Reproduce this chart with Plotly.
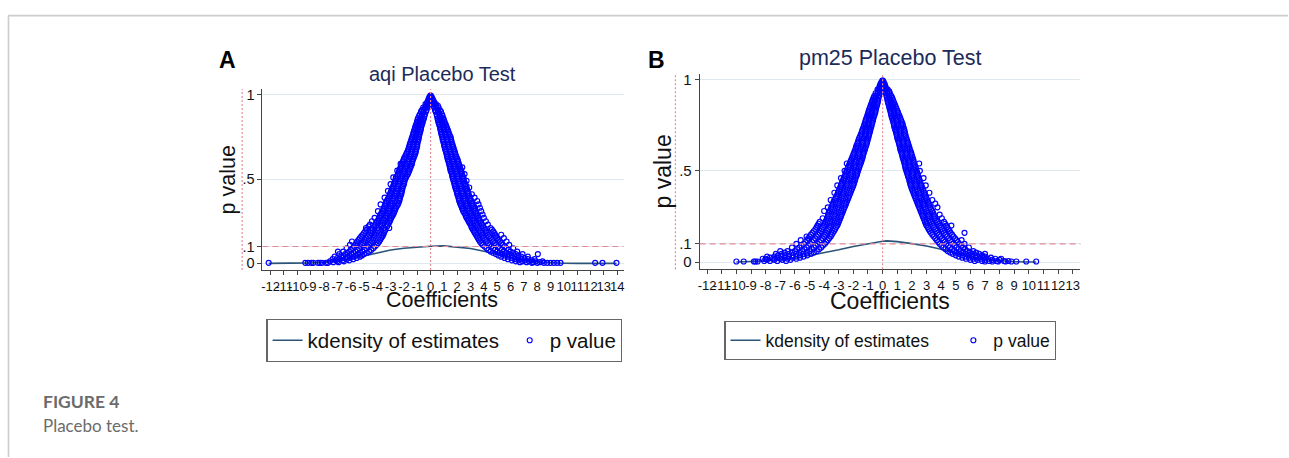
import plotly.graph_objects as go

W, H = 1289, 458

# ---------------- data ----------------
# rows: (p value, coefficient estimates at that p value ...)
A_LEFT = [
    (0.995, -0.02), (0.985, -0.04, -0.1), (0.975, -0.06, -0.15), (0.965, -0.08, -0.2), (0.955, -0.12, -0.25),
    (0.945, -0.15, -0.28, -0.38), (0.935, -0.2, -0.35), (0.925, -0.25, -0.42, -0.55), (0.91, -0.3, -0.5, -0.65),
    (0.90, -0.35, -0.55, -0.72), (0.885, -0.42, -0.62, -0.8), (0.875, -0.46, -0.68, -0.86), (0.86, -0.5, -0.72, -0.95),
    (0.85, -0.55, -0.75, -0.98), (0.84, -0.58, -0.8, -1.02), (0.83, -0.62, -0.85, -1.05), (0.82, -0.66, -0.9, -1.1),
    (0.81, -0.7, -0.92, -1.15), (0.80, -0.72, -0.96, -1.18), (0.79, -0.75, -1.0, -1.22), (0.78, -0.78, -1.03, -1.26),
    (0.77, -0.82, -1.05, -1.3), (0.76, -0.85, -1.08, -1.33), (0.75, -0.88, -1.12, -1.38), (0.74, -0.9, -1.16, -1.42),
    (0.73, -0.92, -1.2, -1.45), (0.72, -0.96, -1.24, -1.5), (0.71, -1.0, -1.28, -1.55), (0.70, -1.0, -1.3, -1.58),
    (0.69, -1.02, -1.35, -1.62), (0.68, -1.06, -1.38, -1.66), (0.67, -1.1, -1.42, -1.7), (0.66, -1.12, -1.45, -1.76),
    (0.65, -1.15, -1.48, -1.82), (0.64, -1.2, -1.52, -1.88), (0.63, -1.25, -1.55, -1.95), (0.62, -1.3, -1.6, -2.0),
    (0.61, -1.35, -1.65, -2.05), (0.60, -1.38, -1.7, -2.1), (0.59, -1.4, -1.75, -2.15, -2.25), (0.58, -1.45, -1.8, -2.2),
    (0.57, -1.5, -1.85, -2.25), (0.56, -1.55, -1.9, -2.3), (0.55, -1.6, -1.95, -2.35, -2.5), (0.54, -1.65, -2.0, -2.4),
    (0.53, -1.7, -2.05, -2.45), (0.52, -1.78, -2.12, -2.5), (0.51, -1.85, -2.2, -2.6, -2.8), (0.50, -1.9, -2.25, -2.62),
    (0.49, -1.95, -2.3, -2.65), (0.48, -1.98, -2.35, -2.7), (0.47, -2.0, -2.4, -2.75, -3.0), (0.46, -2.05, -2.45, -2.8),
    (0.45, -2.1, -2.5, -2.85), (0.44, -2.12, -2.52, -2.9), (0.43, -2.15, -2.55, -2.95, -3.2), (0.42, -2.18, -2.6, -3.0),
    (0.41, -2.2, -2.65, -3.05), (0.40, -2.25, -2.7, -3.1), (0.39, -2.3, -2.75, -3.15, -3.45), (0.38, -2.32, -2.8, -3.22),
    (0.37, -2.35, -2.85, -3.3), (0.36, -2.4, -2.9, -3.35), (0.35, -2.45, -2.95, -3.4, -3.75), (0.34, -2.52, -3.0, -3.45),
    (0.33, -2.6, -3.05, -3.5), (0.32, -2.65, -3.1, -3.55), (0.31, -2.7, -3.15, -3.6, -3.95), (0.30, -2.75, -3.22, -3.68),
    (0.29, -2.8, -3.3, -3.75), (0.28, -2.88, -3.35, -3.8), (0.27, -2.95, -3.4, -3.85, -4.2), (0.26, -3.0, -3.48, -3.92),
    (0.25, -3.05, -3.55, -4.0, -4.4), (0.24, -3.12, -3.6, -4.08), (0.23, -3.2, -3.65, -4.15, -4.55),
    (0.22, -3.25, -3.72, -4.22, -4.65), (0.21, -3.1, -3.5, -3.95, -4.4, -4.85), (0.20, -3.38, -3.88, -4.38, -4.8),
    (0.19, -3.45, -3.95, -4.45, -4.9), (0.18, -3.5, -4.02, -4.52, -5.0), (0.17, -3.55, -4.1, -4.6, -5.1),
    (0.16, -3.62, -4.18, -4.7, -5.2), (0.15, -3.7, -4.25, -4.8, -5.3), (0.14, -3.78, -4.32, -4.88, -5.4),
    (0.13, -3.85, -4.4, -4.95, -5.5, -5.9), (0.12, -3.95, -4.5, -5.05, -5.58),
    (0.11, -4.05, -4.6, -5.15, -5.65, -6.05), (0.10, -4.18, -4.7, -5.25, -5.75),
    (0.09, -4.3, -4.8, -5.35, -5.85, -6.3), (0.08, -4.45, -4.95, -5.48, -5.98),
    (0.07, -4.6, -5.1, -5.6, -6.1, -6.55, -6.95), (0.062, -4.8, -5.28, -5.78, -6.25),
    (0.055, -5.0, -5.45, -5.95, -6.4, -6.85), (0.047, -5.15, -5.62, -6.1, -6.55),
    (0.04, -5.3, -5.8, -6.25, -6.7, -7.2), (0.032, -5.55, -6.05, -6.55, -7.0),
    (0.025, -5.8, -6.3, -6.8, -7.35), (0.018, -6.1, -6.6, -7.1),
    (0.012, -6.5, -7.0, -7.55), (0.007, -6.9, -7.3),
    (0.003, -7.7, -7.85, -8.15, -8.3, -8.45, -8.8, -8.95, -9.2, -9.4, -12.15),
]
A_RIGHT = [
    (0.995, 0.02), (0.985, 0.04, 0.1), (0.975, 0.07, 0.16), (0.965, 0.1, 0.22), (0.955, 0.13, 0.27),
    (0.945, 0.15, 0.3, 0.4), (0.935, 0.22, 0.4, 0.55), (0.925, 0.27, 0.45, 0.6), (0.91, 0.33, 0.52, 0.7),
    (0.90, 0.38, 0.58, 0.78), (0.885, 0.45, 0.65, 0.85), (0.875, 0.48, 0.7, 0.9), (0.86, 0.52, 0.75, 0.96),
    (0.85, 0.55, 0.8, 1.0), (0.84, 0.58, 0.84, 1.05), (0.83, 0.62, 0.88, 1.1), (0.82, 0.66, 0.92, 1.15),
    (0.81, 0.7, 0.95, 1.2), (0.80, 0.72, 0.98, 1.25), (0.79, 0.75, 1.02, 1.3), (0.78, 0.78, 1.06, 1.34),
    (0.77, 0.8, 1.1, 1.38), (0.76, 0.84, 1.14, 1.44), (0.75, 0.88, 1.18, 1.5), (0.74, 0.9, 1.22, 1.52),
    (0.73, 0.92, 1.25, 1.55), (0.72, 0.96, 1.28, 1.58), (0.71, 1.0, 1.3, 1.62), (0.70, 1.02, 1.34, 1.66),
    (0.69, 1.05, 1.38, 1.7), (0.68, 1.08, 1.42, 1.74), (0.67, 1.12, 1.45, 1.78), (0.66, 1.16, 1.48, 1.82),
    (0.65, 1.2, 1.52, 1.85), (0.64, 1.22, 1.56, 1.9), (0.63, 1.25, 1.6, 1.95), (0.62, 1.28, 1.64, 2.0),
    (0.61, 1.32, 1.68, 2.05), (0.60, 1.36, 1.72, 2.08), (0.59, 1.4, 1.75, 2.12), (0.58, 1.42, 1.78, 2.16),
    (0.57, 1.45, 1.82, 2.2, 2.38), (0.56, 1.48, 1.86, 2.25), (0.55, 1.5, 1.9, 2.3), (0.54, 1.55, 1.94, 2.32),
    (0.53, 1.6, 1.98, 2.35, 2.55), (0.52, 1.62, 2.02, 2.4), (0.51, 1.65, 2.05, 2.45), (0.50, 1.68, 2.08, 2.48),
    (0.49, 1.72, 2.12, 2.5, 2.7), (0.48, 1.76, 2.16, 2.55), (0.47, 1.8, 2.2, 2.6), (0.46, 1.82, 2.24, 2.65),
    (0.45, 1.85, 2.28, 2.7, 2.9), (0.44, 1.9, 2.32, 2.74), (0.43, 1.95, 2.35, 2.78), (0.42, 1.98, 2.38, 2.82),
    (0.41, 2.0, 2.42, 2.85, 3.1), (0.40, 2.05, 2.46, 2.9), (0.39, 2.1, 2.5, 2.95, 3.3), (0.38, 2.12, 2.55, 3.0),
    (0.37, 2.15, 2.6, 3.05, 3.5), (0.36, 2.2, 2.65, 3.1), (0.35, 2.25, 2.7, 3.15, 3.6), (0.34, 2.3, 2.75, 3.2),
    (0.33, 2.35, 2.8, 3.25, 3.7), (0.32, 2.4, 2.85, 3.3), (0.31, 2.45, 2.9, 3.35, 3.8), (0.30, 2.52, 2.95, 3.4),
    (0.29, 2.6, 3.0, 3.45, 3.9), (0.28, 2.65, 3.08, 3.52), (0.27, 2.7, 3.15, 3.6, 4.0), (0.26, 2.78, 3.2, 3.65),
    (0.25, 2.85, 3.25, 3.7, 4.15), (0.24, 2.92, 3.32, 3.78), (0.23, 3.0, 3.4, 3.85, 4.3), (0.22, 3.05, 3.48, 3.92),
    (0.21, 3.1, 3.55, 4.0, 4.5), (0.20, 3.18, 3.62, 4.08, 4.6), (0.19, 3.25, 3.7, 4.15, 4.7),
    (0.18, 3.32, 3.78, 4.22, 4.78), (0.17, 3.4, 3.85, 4.3, 4.85, 5.3), (0.16, 3.48, 3.92, 4.4, 4.92),
    (0.15, 3.55, 4.0, 4.5, 5.0, 5.5), (0.14, 3.62, 4.1, 4.6, 5.1), (0.13, 3.7, 4.2, 4.7, 5.2, 5.7),
    (0.12, 3.8, 4.3, 4.8, 5.3), (0.11, 3.9, 4.4, 4.9, 5.4, 5.9), (0.10, 4.05, 4.55, 5.05, 5.55),
    (0.09, 4.2, 4.7, 5.2, 5.7, 6.2), (0.08, 4.35, 4.85, 5.35, 5.85), (0.07, 4.5, 5.0, 5.5, 6.0, 6.5),
    (0.062, 4.7, 5.2, 5.7, 6.2), (0.055, 4.9, 5.4, 5.9, 6.4, 6.9, 8.05), (0.047, 5.1, 5.6, 6.1, 6.6),
    (0.04, 5.3, 5.8, 6.3, 6.8, 7.3), (0.032, 5.55, 6.05, 6.55, 7.05), (0.025, 5.8, 6.3, 6.8, 7.3, 7.8),
    (0.018, 6.1, 6.6, 7.1, 7.6), (0.012, 6.4, 6.9, 7.4, 7.9, 8.4), (0.007, 6.7, 7.2, 7.7, 8.2),
    (0.003, 7.6, 8.0, 8.5, 8.75, 9.0, 9.25, 9.5, 9.75, 12.35, 12.9, 13.95),
]
B_LEFT = [
    (0.995, -0.02), (0.985, -0.04, -0.09), (0.975, -0.06, -0.15), (0.965, -0.08, -0.2), (0.955, -0.1, -0.23),
    (0.945, -0.12, -0.25, -0.35), (0.935, -0.18, -0.32), (0.925, -0.2, -0.36, -0.48), (0.91, -0.25, -0.44, -0.57),
    (0.90, -0.28, -0.48, -0.62), (0.89, -0.3, -0.52, -0.67), (0.88, -0.32, -0.55, -0.72), (0.87, -0.35, -0.58, -0.76),
    (0.86, -0.38, -0.6, -0.8), (0.85, -0.42, -0.64, -0.85), (0.84, -0.45, -0.68, -0.9), (0.83, -0.48, -0.72, -0.94),
    (0.82, -0.5, -0.75, -0.98), (0.81, -0.54, -0.78, -1.02), (0.80, -0.58, -0.82, -1.05), (0.79, -0.62, -0.86, -1.1),
    (0.78, -0.65, -0.9, -1.15), (0.77, -0.68, -0.94, -1.18), (0.76, -0.72, -0.98, -1.22), (0.75, -0.75, -1.02, -1.26),
    (0.74, -0.78, -1.05, -1.3), (0.73, -0.82, -1.08, -1.35), (0.72, -0.85, -1.12, -1.4), (0.71, -0.88, -1.16, -1.44),
    (0.70, -0.92, -1.2, -1.48), (0.69, -0.95, -1.24, -1.54), (0.68, -0.98, -1.28, -1.6), (0.67, -1.02, -1.32, -1.64),
    (0.66, -1.05, -1.35, -1.68), (0.65, -1.08, -1.38, -1.72), (0.64, -1.12, -1.42, -1.78), (0.63, -1.16, -1.46, -1.82),
    (0.62, -1.2, -1.5, -1.85), (0.61, -1.24, -1.55, -1.9), (0.60, -1.28, -1.6, -1.95), (0.59, -1.32, -1.64, -2.0),
    (0.58, -1.35, -1.68, -2.05), (0.57, -1.38, -1.72, -2.1), (0.56, -1.42, -1.78, -2.15), (0.55, -1.46, -1.82, -2.2),
    (0.54, -1.5, -1.88, -2.25, -2.45), (0.53, -1.55, -1.92, -2.3), (0.52, -1.6, -1.95, -2.35), (0.51, -1.64, -2.0, -2.4),
    (0.50, -1.68, -2.05, -2.45, -2.6), (0.49, -1.72, -2.1, -2.5), (0.48, -1.75, -2.15, -2.55), (0.47, -1.8, -2.2, -2.6),
    (0.46, -1.85, -2.25, -2.65, -2.85), (0.45, -1.88, -2.3, -2.7), (0.44, -1.92, -2.35, -2.75), (0.43, -1.96, -2.4, -2.8),
    (0.42, -2.0, -2.45, -2.85, -3.1), (0.41, -2.05, -2.5, -2.9), (0.40, -2.1, -2.55, -2.95), (0.39, -2.15, -2.6, -3.0),
    (0.38, -2.2, -2.65, -3.05, -3.3), (0.37, -2.25, -2.7, -3.1), (0.36, -2.3, -2.75, -3.15), (0.35, -2.35, -2.8, -3.22),
    (0.34, -2.4, -2.85, -3.3, -3.55), (0.33, -2.45, -2.9, -3.35), (0.32, -2.5, -2.95, -3.4), (0.31, -2.55, -3.0, -3.45),
    (0.30, -2.6, -3.05, -3.5, -3.75), (0.29, -2.65, -3.1, -3.55), (0.28, -2.7, -3.15, -3.6, -4.0),
    (0.27, -2.75, -3.2, -3.65), (0.26, -2.8, -3.25, -3.7), (0.25, -2.85, -3.3, -3.75),
    (0.24, -2.9, -3.35, -3.8, -4.1), (0.23, -2.95, -3.4, -3.85), (0.22, -3.0, -3.45, -3.9, -4.3),
    (0.21, -3.05, -3.5, -3.95, -4.38), (0.20, -3.1, -3.55, -4.0, -4.45), (0.19, -3.18, -3.62, -4.08, -4.52),
    (0.18, -3.25, -3.7, -4.15, -4.6), (0.17, -3.32, -3.78, -4.22, -4.7), (0.16, -3.4, -3.85, -4.3, -4.8),
    (0.15, -3.48, -3.92, -4.4, -4.9), (0.14, -3.55, -4.0, -4.5, -5.0, -5.2), (0.13, -3.65, -4.1, -4.6, -5.08),
    (0.12, -3.75, -4.2, -4.7, -5.15, -5.6), (0.11, -3.85, -4.32, -4.82, -5.28),
    (0.10, -3.95, -4.45, -4.95, -5.4, -5.9), (0.09, -4.08, -4.58, -5.08, -5.55),
    (0.08, -4.2, -4.7, -5.2, -5.7, -6.2), (0.07, -4.35, -4.85, -5.35, -5.85),
    (0.06, -4.5, -5.0, -5.5, -6.0, -6.5, -7.0), (0.052, -4.7, -5.2, -5.7, -6.2, -6.7),
    (0.045, -4.9, -5.4, -5.9, -6.4, -6.9, -7.3), (0.037, -5.15, -5.65, -6.15, -6.65, -7.15),
    (0.03, -5.4, -5.9, -6.4, -6.9, -7.4, -7.9), (0.024, -5.65, -6.15, -6.7, -7.2, -7.7),
    (0.018, -5.9, -6.5, -7.0, -7.5, -8.0, -8.2), (0.012, -6.3, -6.85, -7.4, -7.9),
    (0.006, -6.6, -7.2, -7.7, -8.1),
    (0.003, -8.55, -8.7, -8.8, -9.5, -10.0),
]
B_RIGHT = [
    (0.995, 0.02), (0.985, 0.04, 0.08), (0.975, 0.06, 0.14), (0.965, 0.08, 0.18), (0.955, 0.1, 0.22),
    (0.945, 0.12, 0.25, 0.35), (0.935, 0.18, 0.32, 0.45), (0.925, 0.2, 0.36, 0.5), (0.91, 0.26, 0.44, 0.6),
    (0.90, 0.3, 0.48, 0.65), (0.89, 0.32, 0.52, 0.7), (0.88, 0.35, 0.55, 0.75), (0.87, 0.38, 0.58, 0.8),
    (0.86, 0.42, 0.62, 0.85), (0.85, 0.45, 0.66, 0.9), (0.84, 0.48, 0.7, 0.95), (0.83, 0.52, 0.74, 1.0),
    (0.82, 0.55, 0.78, 1.05), (0.81, 0.58, 0.82, 1.1), (0.80, 0.6, 0.85, 1.15), (0.79, 0.64, 0.88, 1.2),
    (0.78, 0.68, 0.92, 1.25), (0.77, 0.72, 0.96, 1.3), (0.76, 0.75, 1.0, 1.35), (0.75, 0.78, 1.04, 1.38),
    (0.74, 0.8, 1.08, 1.42), (0.73, 0.84, 1.12, 1.46), (0.72, 0.88, 1.15, 1.5), (0.71, 0.92, 1.18, 1.52),
    (0.70, 0.95, 1.22, 1.55), (0.69, 0.98, 1.26, 1.58), (0.68, 1.0, 1.3, 1.62), (0.67, 1.04, 1.34, 1.66),
    (0.66, 1.08, 1.38, 1.7), (0.65, 1.12, 1.42, 1.74), (0.64, 1.15, 1.45, 1.78), (0.63, 1.18, 1.48, 1.82),
    (0.62, 1.2, 1.52, 1.85), (0.61, 1.24, 1.56, 1.9), (0.60, 1.28, 1.6, 1.95), (0.59, 1.32, 1.64, 1.98),
    (0.58, 1.35, 1.68, 2.02), (0.57, 1.38, 1.72, 2.06), (0.56, 1.42, 1.75, 2.1), (0.55, 1.46, 1.78, 2.12),
    (0.54, 1.5, 1.82, 2.15, 2.5), (0.53, 1.52, 1.86, 2.2), (0.52, 1.55, 1.9, 2.25), (0.51, 1.58, 1.94, 2.28),
    (0.50, 1.62, 1.98, 2.32, 2.55), (0.49, 1.66, 2.02, 2.36), (0.48, 1.7, 2.05, 2.4), (0.47, 1.74, 2.08, 2.44),
    (0.46, 1.78, 2.12, 2.48, 2.8), (0.45, 1.82, 2.16, 2.52), (0.44, 1.85, 2.2, 2.55), (0.43, 1.88, 2.24, 2.6),
    (0.42, 1.92, 2.28, 2.65, 2.95), (0.41, 1.96, 2.32, 2.7), (0.40, 2.0, 2.38, 2.75), (0.39, 2.05, 2.42, 2.8),
    (0.38, 2.1, 2.48, 2.85, 3.2), (0.37, 2.15, 2.52, 2.9), (0.36, 2.2, 2.58, 2.95), (0.35, 2.25, 2.62, 3.0),
    (0.34, 2.3, 2.68, 3.05, 3.4), (0.33, 2.35, 2.72, 3.1), (0.32, 2.4, 2.78, 3.15, 3.6), (0.31, 2.45, 2.82, 3.2),
    (0.30, 2.5, 2.88, 3.25, 3.75), (0.29, 2.55, 2.94, 3.32), (0.28, 2.6, 3.0, 3.4), (0.27, 2.65, 3.05, 3.45),
    (0.26, 2.7, 3.1, 3.5, 3.9), (0.25, 2.75, 3.15, 3.55), (0.24, 2.8, 3.2, 3.6, 4.05), (0.23, 2.85, 3.25, 3.68),
    (0.22, 2.9, 3.3, 3.75, 4.2), (0.21, 2.95, 3.38, 3.82, 4.28), (0.20, 3.0, 3.45, 3.9, 4.35, 4.7),
    (0.19, 3.08, 3.52, 3.98, 4.42), (0.18, 3.15, 3.6, 4.05, 4.5), (0.17, 3.22, 3.68, 4.12, 4.58),
    (0.16, 3.3, 3.75, 4.2, 4.65, 5.6), (0.15, 3.4, 3.85, 4.3, 4.75), (0.14, 3.5, 3.95, 4.4, 4.85),
    (0.13, 3.6, 4.05, 4.5, 4.95), (0.12, 3.7, 4.15, 4.6, 5.05, 5.4), (0.11, 3.8, 4.25, 4.7, 5.15),
    (0.10, 3.9, 4.35, 4.8, 5.25, 5.6), (0.09, 4.02, 4.48, 4.92, 5.38), (0.08, 4.15, 4.6, 5.05, 5.5, 5.9),
    (0.07, 4.3, 4.75, 5.2, 5.65), (0.06, 4.45, 4.9, 5.35, 5.8, 6.2), (0.052, 4.62, 5.08, 5.52, 5.98, 6.4),
    (0.045, 4.8, 5.25, 5.7, 6.15, 6.6, 7.0), (0.037, 5.0, 5.45, 5.9, 6.35, 6.8),
    (0.03, 5.2, 5.65, 6.1, 6.55, 7.0), (0.024, 5.45, 5.9, 6.4, 6.9, 7.4),
    (0.018, 5.7, 6.2, 6.7, 7.2, 7.7, 8.1), (0.012, 6.0, 6.5, 7.0, 7.5, 8.0),
    (0.006, 6.3, 6.8, 7.3, 7.8, 8.3, 8.6),
    (0.003, 7.0, 7.5, 7.9, 8.4, 8.8, 9.14, 9.82, 10.5),
]

A_KD_X = [-12.15, -11, -10, -9, -8, -7, -6, -5, -4, -3, -2, -1, 0, 1, 2, 3, 4, 5, 6, 7, 8, 9, 10, 11, 12, 13, 13.95]
A_KD_Y = [0.0, 0.0, 0.001, 0.003, 0.006, 0.012, 0.026, 0.043, 0.061, 0.079, 0.090, 0.098, 0.102, 0.104,
          0.098, 0.088, 0.072, 0.053, 0.033, 0.018, 0.008, 0.003, 0.001, 0.0, 0.0, 0.0, 0.0]
B_KD_X = [-10, -9, -8, -7, -6, -5, -4, -3, -2, -1, 0, 0.3, 1, 2, 3, 4, 5, 6, 7, 8, 9, 10, 10.5]
B_KD_Y = [0.0, 0.002, 0.006, 0.013, 0.022, 0.036, 0.050, 0.067, 0.085, 0.101, 0.114, 0.116, 0.112,
          0.101, 0.088, 0.070, 0.048, 0.028, 0.014, 0.006, 0.002, 0.0, 0.0]

A_XTICKS = list(range(-12, 15))
B_XTICKS = list(range(-12, 14))
Y_TICKS = [0, 0.1, 0.5, 1]
Y_TICKTEXT = ["0", ".1", ".5", "1"]
PVAL_LINE = 0.1

TITLE_A = "aqi Placebo Test"
TITLE_B = "pm25 Placebo Test"
KD_NAME = "kdensity of estimates"
PV_NAME = "p value"


def expand(rows_list):
    xs, ys = [], []
    for rows in rows_list:
        for row in rows:
            for x in row[1:]:
                xs.append(x)
                ys.append(row[0])
    return xs, ys


a_x, a_p = expand([A_LEFT, A_RIGHT])
b_x, b_p = expand([B_LEFT, B_RIGHT])

FONT = "Liberation Sans, Arial, Helvetica, sans-serif"
BLUE = "#0000ff"
NAVY = "#2b5479"
RED = "#e58b98"
GRID = "#dde9ed"
AXC = "#444444"
TITLEC = "#1c2b5a"
NB = "\u00a0"

fig = go.Figure()

MARKER = dict(symbol="circle-open", size=5, color=BLUE, line=dict(width=1.15))

# panel A
fig.add_trace(go.Scatter(x=A_KD_X, y=A_KD_Y, mode="lines", name=KD_NAME + NB,
                         line=dict(color=NAVY, width=1.6), xaxis="x", yaxis="y", legend="legend"))
fig.add_trace(go.Scatter(x=a_x, y=a_p, mode="markers", name=PV_NAME, marker=MARKER,
                         xaxis="x", yaxis="y", legend="legend"))
# panel B
fig.add_trace(go.Scatter(x=B_KD_X, y=B_KD_Y, mode="lines", name=KD_NAME + NB * 4,
                         line=dict(color=NAVY, width=1.6), xaxis="x2", yaxis="y2", legend="legend2"))
fig.add_trace(go.Scatter(x=b_x, y=b_p, mode="markers", name=PV_NAME, marker=MARKER,
                         xaxis="x2", yaxis="y2", legend="legend2"))


def px(x):
    return x / W


def py(y):
    return 1 - y / H


def xaxis(domain, rng, ticks, anchor):
    return dict(domain=domain, range=rng, anchor=anchor, tickvals=ticks, ticktext=[str(t) for t in ticks],
                tickangle=0, showgrid=False, zeroline=False, showline=True, linecolor=AXC, linewidth=1,
                ticks="outside", ticklen=4, tickcolor=AXC, tickwidth=1,
                tickfont=dict(family=FONT, size=13, color="#111"))


def yaxis(domain, rng, anchor, fs):
    return dict(domain=domain, range=rng, anchor=anchor, tickvals=Y_TICKS, ticktext=Y_TICKTEXT,
                showgrid=True, gridcolor=GRID, gridwidth=1, zeroline=False, showline=True,
                linecolor=AXC, linewidth=1, ticks="outside", ticklen=4, tickcolor=AXC, tickwidth=1,
                tickfont=dict(family=FONT, size=fs, color="#111"))


fig.update_layout(
    width=W, height=H, margin=dict(l=0, r=0, t=0, b=0),
    paper_bgcolor="white", plot_bgcolor="white",
    xaxis=xaxis([px(261), px(623)], [-12.62, 14.48], A_XTICKS, "y"),
    yaxis=yaxis([py(269.3), py(86.7)], [-0.039, 1.035], "x", 14.5),
    xaxis2=xaxis([px(699.3), px(1081)], [-12.51, 13.53], B_XTICKS, "y2"),
    yaxis2=yaxis([py(268.7), py(71.7)], [-0.040, 1.030], "x2", 15),
    legend=dict(orientation="h", x=px(265), y=py(319), xanchor="left", yanchor="top",
                bordercolor="#666", borderwidth=1.2, bgcolor="white",
                font=dict(family=FONT, size=20.5, color="#111"), itemwidth=30),
    legend2=dict(orientation="h", x=px(724), y=py(321), xanchor="left", yanchor="top",
                 bordercolor="#666", borderwidth=1.2, bgcolor="white",
                 font=dict(family=FONT, size=17.5, color="#111"), itemwidth=30),
    showlegend=True,
)

# reference lines
for xr, yr in (("x", "y"), ("x2", "y2")):
    fig.add_shape(type="line", xref=xr, yref=yr + " domain", x0=0, x1=0, y0=0, y1=1,
                  line=dict(color=RED, width=1.2, dash="2px,2px"))
    fig.add_shape(type="line", xref=xr + " domain", yref=yr, x0=0, x1=1, y0=PVAL_LINE, y1=PVAL_LINE,
                  line=dict(color=RED, width=1.2, dash="6px,4px"))
fig.add_shape(type="line", xref="paper", yref="y domain", x0=px(240.7), x1=px(240.7), y0=0, y1=1,
              line=dict(color=RED, width=1.2, dash="2px,2px"))
fig.add_shape(type="line", xref="paper", yref="y2 domain", x0=px(675), x1=px(675), y0=0, y1=1,
              line=dict(color=RED, width=1.2, dash="2px,2px"))

# page frame
fig.add_shape(type="line", xref="paper", yref="paper", x0=px(6), x1=1, y0=py(12.7), y1=py(12.7),
              line=dict(color="#cccccc", width=1.6))
fig.add_shape(type="line", xref="paper", yref="paper", x0=px(6.5), x1=px(6.5), y0=0, y1=py(12.7),
              line=dict(color="#cccccc", width=1.6))


def ann(text, x, y, size, color="#111", bold=False, angle=0, family=FONT, xanchor="center"):
    fig.add_annotation(text=("<b>%s</b>" % text) if bold else text, x=px(x), y=py(y),
                       xref="paper", yref="paper", showarrow=False, xanchor=xanchor, yanchor="middle",
                       textangle=angle, font=dict(family=family, size=size, color=color))


ann("A", 226.5, 57, 23, "#000", bold=True)
ann("B", 656.5, 57, 23, "#000", bold=True)
ann(TITLE_A, 442, 71.5, 20, TITLEC)
ann(TITLE_B, 890.5, 55.5, 21.5, TITLEC)
ann("p value", 226.5, 178, 21.5, angle=-90)
ann("p value", 662.5, 170, 23, angle=-90)
ann("Coefficients", 441.5, 300, 21.5)
ann("Coefficients", 890, 301, 23)
ann("FIGURE 4", 39, 402, 17.5, "#6b6b6b", bold=True, family="Lato, Open Sans, sans-serif", xanchor="left")
ann("Placebo test.", 39, 426, 17, "#6b6b6b", family="Lato, Open Sans, sans-serif", xanchor="left")

fig.write_html("out.html", config={"displayModeBar": False},
               post_script="document.body.style.margin='0';document.body.style.overflow='hidden';")
